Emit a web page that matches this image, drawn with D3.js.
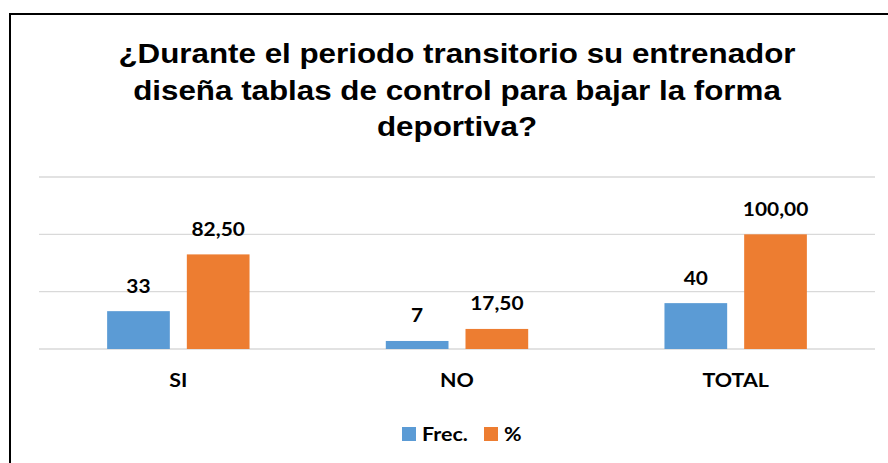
<!DOCTYPE html>
<html>
<head>
<meta charset="utf-8">
<script src="https://cdn.jsdelivr.net/npm/d3@7"></script>
<style>
  body { margin: 0; background: #fff; }
</style>
</head>
<body>
<div id="chart"></div>
<script>
const width = 888;
const height = 463;

const categories = ["SI", "NO", "TOTAL"];
const seriesNames = ["Frec.", "%"];
const frec = [33, 7, 40];
const pct = [82.5, 17.5, 100];
const yTicks = [0, 50, 100, 150];
const colors = ["#5b9bd5", "#ed7d31"];

const titleLines = [
    "¿Durante el periodo transitorio su entrenador",
    "diseña tablas de control para bajar la forma",
    "deportiva?"
];

const labelFont = "Lato, 'Open Sans', sans-serif";
// the source picture is a little wider than tall, so the text is stretched sideways
const stretch = 1.1;
const place = (px, py) => "translate(" + px + "," + py + ") scale(" + stretch + ",1)";

const svg = d3.select("#chart")
    .append("svg")
    .attr("width", width)
    .attr("height", height);

svg.append("rect")
    .attr("x", 0).attr("y", 0)
    .attr("width", width).attr("height", height)
    .attr("fill", "#fff");

// chart border (right and bottom edges fall outside the picture)
svg.append("rect")
    .attr("x", 10).attr("y", 14)
    .attr("width", 900).attr("height", 480)
    .attr("fill", "none")
    .attr("stroke", "#000")
    .attr("stroke-width", 2);

svg.append("g")
    .selectAll("text")
    .data(titleLines)
    .enter()
    .append("text")
    .attr("transform", (d, i) => place(457, 63 + i * 36.5))
    .attr("text-anchor", "middle")
    .attr("font-family", "'Liberation Sans', Arial, sans-serif")
    .attr("font-weight", "bold")
    .attr("font-size", "28.5px")
    .attr("fill", "#000")
    .text(d => d);

const plotLeft = 39, plotRight = 875, plotTop = 177, plotBottom = 349;

const x = d3.scaleBand()
    .domain(categories)
    .range([plotLeft, plotRight]);

const y = d3.scaleLinear()
    .domain([0, 150])
    .range([plotBottom, plotTop]);

const barW = x.bandwidth() * 0.225;
const gap = 17;

svg.append("g")
    .selectAll("line")
    .data(yTicks)
    .enter()
    .append("line")
    .attr("x1", plotLeft).attr("x2", plotRight)
    .attr("y1", d => y(d)).attr("y2", d => y(d))
    .attr("stroke", "#d9d9d9")
    .attr("stroke-width", 1.3);

const rows = [];
categories.forEach((c, i) => {
    rows.push({ cat: c, s: 0, value: frec[i], label: String(frec[i]) });
    rows.push({ cat: c, s: 1, value: pct[i], label: pct[i].toFixed(2).replace(".", ",") });
});

const barX = d => x(d.cat) + x.bandwidth() / 2 + (d.s === 0 ? -gap / 2 - barW : gap / 2);

svg.append("g")
    .selectAll("rect")
    .data(rows)
    .enter()
    .append("rect")
    .attr("x", barX)
    .attr("y", d => y(d.value))
    .attr("width", barW)
    .attr("height", d => plotBottom - y(d.value))
    .attr("fill", d => colors[d.s]);

svg.append("g")
    .selectAll("text")
    .data(rows)
    .enter()
    .append("text")
    .attr("transform", d => place(barX(d) + barW / 2, y(d.value) - 18.5))
    .attr("text-anchor", "middle")
    .attr("font-family", labelFont)
    .attr("font-weight", "bold")
    .attr("font-size", "19px")
    .attr("fill", "#000")
    .text(d => d.label);

svg.append("g")
    .selectAll("text")
    .data(categories)
    .enter()
    .append("text")
    .attr("transform", d => place(x(d) + x.bandwidth() / 2, plotBottom + 38))
    .attr("text-anchor", "middle")
    .attr("font-family", labelFont)
    .attr("font-weight", "bold")
    .attr("font-size", "19.5px")
    .attr("fill", "#000")
    .text(d => d);

const legend = svg.append("g")
    .selectAll("g")
    .data(seriesNames)
    .enter()
    .append("g")
    .attr("transform", (d, i) => "translate(" + (402 + i * 82) + ",427)");
legend.append("rect")
    .attr("width", 14).attr("height", 14)
    .attr("fill", (d, i) => colors[i]);
legend.append("text")
    .attr("transform", place(20, 13.5))
    .attr("font-family", labelFont)
    .attr("font-weight", "bold")
    .attr("font-size", "19.5px")
    .attr("fill", "#000")
    .text(d => d);
</script>
</body>
</html>
